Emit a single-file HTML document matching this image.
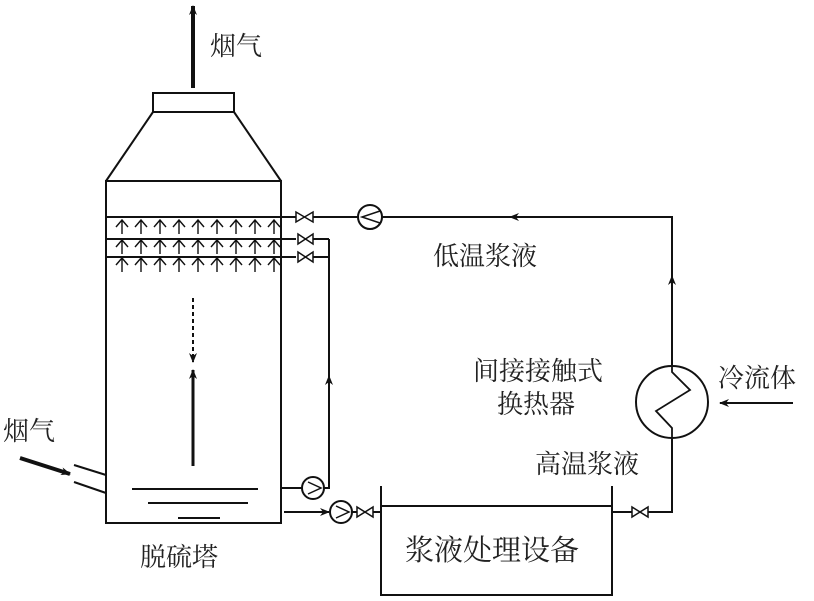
<!DOCTYPE html>
<html><head><meta charset="utf-8"><style>
body{margin:0;background:#fff;width:814px;height:596px;overflow:hidden}
text{font-family:"Liberation Serif","Noto Serif CJK SC",serif;font-size:26px;fill:#222}
</style></head><body>
<svg width="814" height="596" viewBox="0 0 814 596" xmlns="http://www.w3.org/2000/svg">
<defs>
<marker id="a" markerWidth="10" markerHeight="8" refX="9" refY="4" orient="auto" markerUnits="userSpaceOnUse"><path d="M0,0L10,4L0,8L3,4Z" fill="#111"/></marker>
</defs>
<g stroke="#111" stroke-width="2" fill="none">
<rect x="106" y="181" width="175" height="342"/>
<path d="M106,181L153,112M281,181L234,112"/>
<rect x="153" y="93" width="81" height="19"/>
<line x1="193" y1="88" x2="193" y2="6" stroke-width="4" marker-end="url(#a)"/>
<line x1="106" y1="217" x2="296" y2="217"/>
<line x1="106" y1="239" x2="296" y2="239"/>
<line x1="106" y1="257" x2="296" y2="257"/>
<path d="M74,465L106,475M74,482L106,493"/>
<line x1="20" y1="458" x2="70" y2="474" stroke-width="4" marker-end="url(#a)"/>
<path d="M132,489H258M148,503H248M178,518H220"/>
<line x1="193" y1="298" x2="193" y2="362" stroke-dasharray="4,3" marker-end="url(#a)"/>
<line x1="193" y1="466" x2="193" y2="370" stroke-width="3" marker-end="url(#a)"/>
<path d="M296,212V222L313,212V222Z" stroke-width="1.5"/>
<path d="M298,234V244L313,234V244Z" stroke-width="1.5"/>
<path d="M298,252V262L313,252V262Z" stroke-width="1.5"/>
<path d="M313,239H329M313,257H329"/>
<path d="M313,217H358"/>
<circle cx="370" cy="217" r="12"/>
<path d="M380,211L362,217L380,223" stroke-width="1.5"/>
<path d="M382,217H672V365"/>
<line x1="560" y1="217" x2="510" y2="217" marker-end="url(#a)"/>
<line x1="672" y1="300" x2="672" y2="276" marker-end="url(#a)"/>
<path d="M281,488H302M324,488H329V239"/>
<line x1="329" y1="400" x2="329" y2="376" marker-end="url(#a)"/>
<circle cx="313" cy="488" r="11"/>
<path d="M308,482L321,488L308,494" stroke-width="1.5"/>
<line x1="284" y1="512" x2="329" y2="512" marker-end="url(#a)"/>
<circle cx="341" cy="512" r="11"/>
<path d="M336,506L349,512L336,518" stroke-width="1.5"/>
<path d="M352,512H357M373,512H381"/>
<path d="M357,507V517L373,507V517Z" stroke-width="1.5"/>
<path d="M381,486V595H612V486M381,506H612"/>
<path d="M612,512H632M648,512H672V438"/>
<path d="M632,507V517L648,507V517Z" stroke-width="1.5"/>
<circle cx="672" cy="402" r="36"/>
<path d="M672,366V372L690,390L656,411L672,428V438" stroke-width="1.8"/>
<line x1="793" y1="403" x2="720" y2="403" marker-end="url(#a)"/>
</g>
<g stroke="#111" stroke-width="1.4" fill="none">
<path id="r" d="M122,234V221M116,227L122,220L128,227M141,234V221M135,227L141,220L147,227M160,234V221M154,227L160,220L166,227M179,234V221M173,227L179,220L185,227M198,234V221M192,227L198,220L204,227M217,234V221M211,227L217,220L223,227M236,234V221M230,227L236,220L242,227M255,234V221M249,227L255,220L261,227M274,234V221M268,227L274,220L280,227"/>
<use href="#r" y="20"/>
<use href="#r" y="38"/>
</g>
<text x="210" y="55">烟气</text>
<text x="3" y="440">烟气</text>
<text x="433" y="265">低温浆液</text>
<text x="473" y="380">间接接触式</text>
<text x="497" y="413">换热器</text>
<text x="535" y="473">高温浆液</text>
<text x="718" y="387">冷流体</text>
<text x="140" y="566">脱硫塔</text>
<text x="405" y="560" style="font-size:29px">浆液处理设备</text>
</svg>
</body></html>
